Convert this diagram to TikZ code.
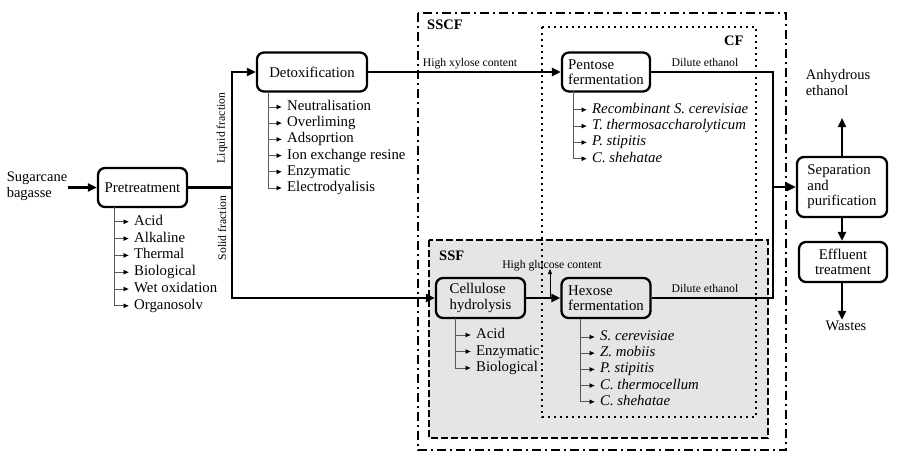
\documentclass[tikz,border=0pt]{standalone}
\usepackage{fontspec}
\setmainfont{Liberation Serif}
\usetikzlibrary{arrows.meta}
\begin{document}
\begin{tikzpicture}[x=1pt,y=-1pt,
  box/.style={draw, line width=2.3pt, rounded corners=7pt, align=left, inner sep=2pt,
    font=\fontsize{14.8}{15.5}\selectfont},
  conn/.style={line width=2.1pt},
  arr/.style={conn,-{Triangle[length=9pt,width=8pt]}},
  lbl/.style={font=\fontsize{11.7}{12}\selectfont, inner sep=1pt},
  item/.style={anchor=west, inner sep=2pt, text height=10pt, text depth=3pt, font=\fontsize{14.8}{15}\selectfont},
  iitem/.style={item, font=\fontsize{14.8}{15}\selectfont\itshape},
  vline/.style={draw=gray!70!black, line width=0.8pt},
  stub/.style={vline, shorten >=3pt, -{Latex[length=5.5pt,width=5pt,color=black]}},
  grp/.style={font=\fontsize{14.5}{15}\selectfont\bfseries, anchor=west, inner sep=1pt}
]
\useasboundingbox (0,0) rectangle (900,458);

% regions
\draw[fill=gray!20, line width=1.8pt, dash pattern=on 7pt off 3pt] (429,240) rectangle (768,438);
\draw[line width=2.2pt, dash pattern=on 2pt off 4pt] (542,27) rectangle (756,417);
\draw[line width=2pt, dash pattern=on 9pt off 4pt on 2pt off 4pt] (418,13) rectangle (786,450);
\node[grp] (sscf) at (426,25) {SSCF};
\node[grp] (cf) at (723,41) {CF};
\node[grp] (ssf) at (438,256) {SSF};

% main boxes
\node[box, fill=white, minimum width=89pt, minimum height=39pt] (pre) at (142.5,187.5) {Pretreatment};
\node[box, fill=white, minimum width=110pt, minimum height=39pt] (detox) at (312,72) {Detoxification};
\node[box, fill=white, minimum width=88pt, minimum height=39pt] (pent) at (606,72) {Pentose\\fermentation};
\node[box, minimum width=89pt, minimum height=40pt] (cell) at (480.5,298) {Cellulose\\hydrolysis};
\node[box, minimum width=89pt, minimum height=40pt] (hex) at (606,298) {Hexose\\fermentation};
\node[box, fill=white, minimum width=90pt, minimum height=60pt] (sep) at (842,187) {Separation\\and\\purification};
\node[box, fill=white, minimum width=88pt, minimum height=40pt, align=center] (eff) at (843,262) {Effluent\\treatment};

\node[align=left, inner sep=1pt, font=\fontsize{14.5}{16}\selectfont] (sug) at (37,186) {Sugarcane\\bagasse};
\node[align=left, inner sep=1pt, font=\fontsize{14.5}{16}\selectfont] (anh) at (838,83) {Anhydrous\\ethanol};
\node[inner sep=1pt, font=\fontsize{14.5}{16}\selectfont] (waste) at (846,326) {Wastes};

% connectors
\coordinate (split) at (232,187.5);
\draw[arr] (sug.east |- pre.west) -- (pre.west);
\draw[conn] (pre.east) -- (split);
\draw[arr] (split) |- (detox.west);
\draw[arr] (split) |- (cell.west);
\draw[arr] (detox.east) -- (pent.west);
\draw[arr] (cell.east) -- (hex.west);
\coordinate (cD) at (773,298);
\coordinate (cM) at (773,187);
\draw[conn] (pent.east) -| (cD) -- (hex.east);
\draw[arr] (cM) -- (sep.west);
\coordinate (anhT) at (842,118);
\draw[arr] (sep.north) -- (anhT);
\draw[arr] (sep.south) -- (eff.north -| sep.south);
\draw[arr] (eff.south -| sep.south) -- (waste.north -| sep.south);
\coordinate (g1) at (550,298);
\coordinate (g2) at (550,269);
\draw[line width=0.7pt, -{Triangle[length=5pt,width=4pt]}] (g1) -- (g2);

% connector labels
\node[lbl, rotate=90] (liq) at (222,128) {Liquid fraction};
\node[lbl, rotate=90] (sol) at (222,228) {Solid fraction};
\node[lbl] (hx) at (470,64) {High xylose content};
\node[lbl] (de1) at (705,62) {Dilute ethanol};
\node[lbl] (de2) at (705,288) {Dilute ethanol};
\node[lbl] (hg) at (552,266) {High glucose content};

% lists
\draw[vline] (114,207) -- (114,305);
\foreach \t [count=\i] in {Acid,Alkaline,Thermal,Biological,Wet oxidation,Organosolv}{
  \node[item] (pa\i) at (132,{205+16.8*\i}) {\t};
  \coordinate (ps\i) at (114,{205+16.8*\i});
  \draw[stub] (ps\i) -- (pa\i.west);
}
\draw[vline] (268,92) -- (268,188);
\foreach \t [count=\i] in {Neutralisation,Overliming,Adsoprtion,Ion exchange resine,Enzymatic,Electrodyalisis}{
  \node[item] (da\i) at (285,{90.8+16.2*\i}) {\t};
  \coordinate (ds\i) at (268,{90.8+16.2*\i});
  \draw[stub] (ds\i) -- (da\i.west);
}
\draw[vline] (573,91) -- (573,159);
\foreach \t [count=\i] in {Recombinant S. cerevisiae,T. thermosaccharolyticum,P. stipitis,C. shehatae}{
  \node[iitem] (pt\i) at (590,{93.5+16.3*\i}) {\t};
  \coordinate (pts\i) at (573,{93.5+16.3*\i});
  \draw[stub] (pts\i) -- (pt\i.west);
}
\draw[vline] (455,318) -- (455,368);
\foreach \t [count=\i] in {Acid,Enzymatic,Biological}{
  \node[item] (ca\i) at (474,{318.5+16.5*\i}) {\t};
  \coordinate (cs\i) at (455,{318.5+16.5*\i});
  \draw[stub] (cs\i) -- (ca\i.west);
}
\draw[vline] (580,319) -- (580,402);
\foreach \t [count=\i] in {S. cerevisiae,Z. mobiis,P. stipitis,C. thermocellum,C. shehatae}{
  \node[iitem] (hx\i) at (598,{320.8+16.2*\i}) {\t};
  \coordinate (hs\i) at (580,{320.8+16.2*\i});
  \draw[stub] (hs\i) -- (hx\i.west);
}
\end{tikzpicture}
\end{document}
